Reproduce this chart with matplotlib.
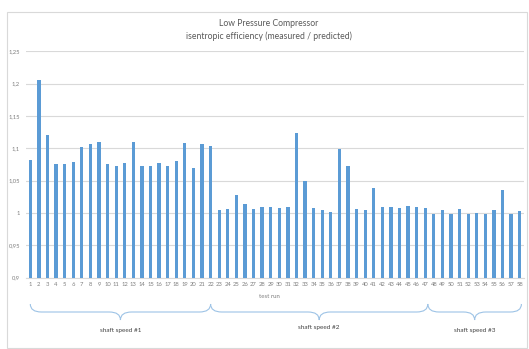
import matplotlib
matplotlib.use("Agg")
import matplotlib.pyplot as plt
from matplotlib.path import Path
from matplotlib.patches import PathPatch, Rectangle
from matplotlib.transforms import blended_transform_factory

plt.rcParams['font.family'] = ['Lato', 'DejaVu Sans']

runs = list(range(1, 59))
efficiency = [
    1.082, 1.206, 1.121, 1.075, 1.075, 1.079, 1.102, 1.106, 1.110, 1.075,
    1.073, 1.078, 1.109, 1.072, 1.073, 1.077, 1.073, 1.081, 1.108, 1.069,
    1.106, 1.103, 1.005, 1.006, 1.028, 1.014, 1.006, 1.009, 1.009, 1.007,
    1.009, 1.124, 1.049, 1.007, 1.005, 1.002, 1.099, 1.072, 1.006, 1.004,
    1.039, 1.009, 1.009, 1.008, 1.011, 1.009, 1.007, 0.999, 1.004, 0.999,
    1.006, 0.999, 1.000, 0.999, 1.004, 1.035, 0.998, 1.003,
]
y_ticks = [0.9, 0.95, 1.0, 1.05, 1.1, 1.15, 1.2, 1.25]
y_tick_labels = ["0,9", "0,95", "1", "1,05", "1,1", "1,15", "1,2", "1,25"]
# shaft speed groups: (first run, last run, label)
groups = [(1, 22, "shaft speed #1"), (22, 47.3, "shaft speed #2"), (47.3, 58.2, "shaft speed #3")]
group_label_y = [0.054, 0.063, 0.052]

W, H = 529, 349
fig = plt.figure(figsize=(W / 100, H / 100), dpi=100)
fig.patch.set_facecolor("white")

# outer chart frame
fig.patches.append(Rectangle((7 / W, 1 / H), 520 / W, 336 / H, transform=fig.transFigure,
                             fill=False, edgecolor="#D9D9D9", linewidth=0.8))

ax = fig.add_axes([26 / W, 71.3 / H, 498 / W, 226.5 / H])
ax.bar(runs, efficiency, width=0.38, color="#5B9BD5", zorder=3)
ax.set_xlim(0.5, 58.5)
ax.set_ylim(0.9, 1.25)
ax.set_yticks(y_ticks)
ax.set_yticklabels(y_tick_labels)
ax.set_xticks(runs)
ax.set_xticklabels([str(r) for r in runs])
ax.tick_params(axis="both", length=0, labelsize=4.2, labelcolor="#7F7F7F")
ax.tick_params(axis="x", pad=3)
ax.tick_params(axis="y", pad=4.3)
ax.grid(axis="y", color="#D9D9D9", linewidth=0.8, zorder=0)
for s in ["top", "right", "left"]:
    ax.spines[s].set_visible(False)
ax.spines["bottom"].set_color("#D9D9D9")
ax.spines["bottom"].set_linewidth(0.8)

fig.text(269 / W, 1 - 24 / H, "Low Pressure Compressor", ha="center", va="center",
         fontsize=6.2, color="#595959")
fig.text(269 / W, 1 - 36 / H, "isentropic efficiency (measured / predicted)", ha="center",
         va="center", fontsize=6.2, color="#595959")
fig.text(269 / W, 1 - 297 / H, "test run", ha="center", va="center", fontsize=4.4, color="#7F7F7F")

# curly braces under the axis marking shaft speed groups
tr = blended_transform_factory(ax.transData, fig.transFigure)
y_top, y_mid, y_bot = 45 / H, 37 / H, 29 / H
d = 1.3
for (x0, x1, label), ly in zip(groups, group_label_y):
    xm = (x0 + x1) / 2
    verts = [(x0, y_top), (x0, y_mid), (x0 + d, y_mid),
             (xm - d, y_mid), (xm, y_mid), (xm, y_bot),
             (xm, y_mid), (xm + d, y_mid),
             (x1 - d, y_mid), (x1, y_mid), (x1, y_top)]
    codes = [Path.MOVETO, Path.CURVE3, Path.CURVE3,
             Path.LINETO, Path.CURVE3, Path.CURVE3,
             Path.CURVE3, Path.CURVE3,
             Path.LINETO, Path.CURVE3, Path.CURVE3]
    patch = PathPatch(Path(verts, codes), transform=tr, fill=False,
                      edgecolor="#9DC3E6", linewidth=0.8, clip_on=False)
    fig.patches.append(patch)
    fig.text(xm, ly, label, transform=tr, ha="center", va="center", fontsize=4.6, color="#404040")

fig.savefig("out.png", dpi=100)
